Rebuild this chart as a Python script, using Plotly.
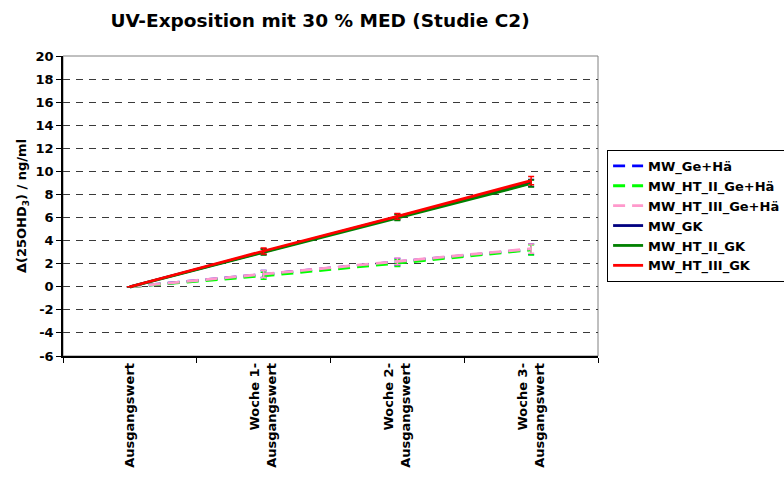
import plotly.graph_objects as go

# Zeitpunkte (Differenz zum Ausgangswert)
categories = ["Ausgangswert", "Woche 1-<br>Ausgangswert", "Woche 2-<br>Ausgangswert", "Woche 3-<br>Ausgangswert"]

# Mittelwerte Δ(25OHD3) in ng/ml
mw_ge_hae = [0, 1.10, 2.15, 3.25]
mw_ht2_ge_hae = [0, 0.95, 2.05, 3.20]
mw_ht3_ge_hae = [0, 1.10, 2.20, 3.30]
mw_gk = [0, 3.05, 6.05, 9.00]
mw_ht2_gk = [0, 3.00, 6.00, 8.95]
mw_ht3_gk = [0, 3.10, 6.10, 9.20]

# Fehlerbalken (Standardfehler)
err_ge_hae = [0, 0.30, 0.30, 0.45]
err_ht2_ge_hae = [0, 0.30, 0.30, 0.45]
err_ht3_ge_hae = [0, 0.30, 0.30, 0.40]
err_gk = [0, 0.25, 0.25, 0.30]
err_ht2_gk = [0, 0.25, 0.25, 0.30]
err_ht3_gk = [0, 0.25, 0.25, 0.35]

# Beschriftung der y-Achse
y_ticks = list(range(-6, 21, 2))
y_tick_labels = [f"<b>{v}</b>" for v in y_ticks]

series = [
    ("MW_Ge+Hä", mw_ge_hae, err_ge_hae, "#0000FF", "12px,7px"),
    ("MW_HT_II_Ge+Hä", mw_ht2_ge_hae, err_ht2_ge_hae, "#00FF00", "12px,7px"),
    ("MW_HT_III_Ge+Hä", mw_ht3_ge_hae, err_ht3_ge_hae, "#FF99CC", "12px,7px"),
    ("MW_GK", mw_gk, err_gk, "#000080", "solid"),
    ("MW_HT_II_GK", mw_ht2_gk, err_ht2_gk, "#008000", "solid"),
    ("MW_HT_III_GK", mw_ht3_gk, err_ht3_gk, "#FF0000", "solid"),
]

fig = go.Figure()
for name, vals, errs, color, dash in series:
    fig.add_trace(go.Scatter(
        x=categories, y=vals, name=name, mode="lines",
        line=dict(color=color, width=2.8, dash=dash),
        error_y=dict(type="data", array=errs, visible=True,
                     color=color, thickness=1.5, width=3),
    ))

font_family = "DejaVu Sans, sans-serif"

fig.update_layout(
    width=784, height=477,
    margin=dict(l=63, r=186, t=56, b=121, autoexpand=False),
    paper_bgcolor="white", plot_bgcolor="white",
    font=dict(family=font_family, size=13, color="black"),
    title=dict(
        text="<b>UV-Exposition mit 30 % MED (Studie C2)</b>",
        x=(320 / 784), xanchor="center", y=1 - 21 / 477, yanchor="middle",
        font=dict(size=18.5, family=font_family, color="black"),
    ),
    showlegend=True,
    legend=dict(
        x=1.017, xanchor="left", y=0.687, yanchor="top",
        bgcolor="white", bordercolor="black", borderwidth=1,
        font=dict(size=13, family=font_family, color="black", weight="bold"),
        tracegroupgap=0, itemwidth=30,
    ),
)

fig.update_xaxes(
    type="category", range=[-0.5, 3.5],
    showline=True, linecolor="black", linewidth=1.5,
    ticks="outside", tickson="boundaries", ticklen=5, tickcolor="black",
    tickangle=-90, showgrid=False,
    tickfont=dict(size=13, family=font_family, color="black", weight="bold"),
)
fig.update_yaxes(
    range=[-6, 20], tickmode="array", tickvals=y_ticks, ticktext=y_tick_labels,
    showline=True, linecolor="black", linewidth=1.5,
    ticks="outside", ticklen=5, tickcolor="black",
    showgrid=True, gridcolor="#3a3a3a", griddash="7px,6px", gridwidth=1,
    zeroline=False,
    tickfont=dict(size=13, family=font_family, color="black"),
    title=dict(text="<b>Δ(25OHD<sub>3</sub>) / ng/ml</b>", standoff=6,
               font=dict(size=13, family=font_family, color="black")),
)

# grauer Rahmen der Zeichenfläche (oben und rechts)
fig.add_shape(type="rect", xref="paper", yref="paper", x0=0, x1=1, y0=0, y1=1,
              line=dict(color="#808080", width=1), layer="below")

fig.write_html("out.html")
